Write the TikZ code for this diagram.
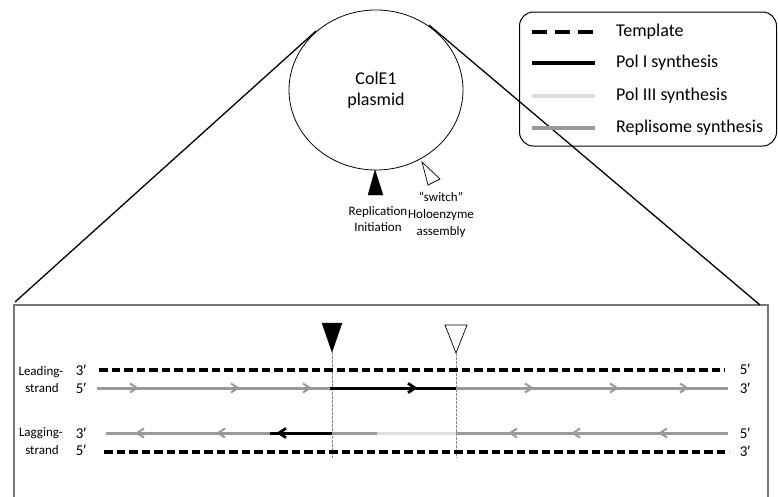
\documentclass[tikz,border=0pt]{standalone}
\usepackage{fontspec}
\setmainfont{Carlito}
\newfontfamily\primefont{Liberation Sans}
\newcommand{\pr}{{\primefont ′}}
\usetikzlibrary{shapes.geometric}
\definecolor{repgray}{HTML}{9A9A9A}
\definecolor{polthree}{HTML}{DEDEDE}
\definecolor{boxgray}{HTML}{777777}
\definecolor{guidegray}{HTML}{888888}
\begin{document}
\begin{tikzpicture}[x=1pt,y=-1pt,
  tmpl/.style={line width=3.5pt, dash pattern=on 8.5pt off 4pt},
  repline/.style={draw=repgray, line width=3pt},
  polone/.style={draw=black, line width=3pt},
  polthr/.style={draw=polthree, line width=3pt},
  guide/.style={draw=guidegray, line width=0.6pt, dash pattern=on 2.5pt off 1.5pt},
  zoomline/.style={draw=black, line width=1.3pt},
  smalltxt/.style={font=\fontsize{13}{15.5}\selectfont, align=center, inner sep=0pt},
  legtxt/.style={font=\fontsize{18}{21}\selectfont, anchor=west, inner sep=0pt},
  endlbl/.style={font=\fontsize{15}{17}\selectfont, inner sep=0pt},
  chevR/.pic={\draw[line width=2pt, line join=miter] (-7,-4.5) -- (0,0) -- (-7,4.5);},
  chevL/.pic={\draw[line width=2pt, line join=miter] (7,-4.5) -- (0,0) -- (7,4.5);},
  bchevR/.pic={\draw[line width=2.8pt, line join=miter] (-7,-4.7) -- (0,0) -- (-7,4.7);},
  bchevL/.pic={\draw[line width=2.8pt, line join=miter] (7,-4.7) -- (0,0) -- (7,4.7);}
]
\useasboundingbox (0,0) rectangle (778,496);

% plasmid
\node[draw, ellipse, line width=0.8pt, minimum width=174pt, minimum height=160pt, inner sep=0pt,
      font=\fontsize{18}{21}\selectfont, align=center] (plasmid) at (376,90) {ColE1\\plasmid};

% zoom box
\coordinate (bl) at (14,305);
\coordinate (br) at (768,305);
\coordinate (blow) at (14,500);
\coordinate (brlow) at (768,500);
\coordinate (lt) at (316,31);
\coordinate (rt) at (429,25);
\coordinate (lend) at (15,302);
\coordinate (rend) at (760,305);
\draw[boxgray, line width=1.5pt] (blow) -- (bl) -- (br) -- (brlow);
\draw[zoomline] (lt) -- (lend);
\draw[zoomline] (rt) -- (rend);

% plasmid markers
\draw[fill=black] (375,170) coordinate (ri) -- (368,195) -- (383,195) -- cycle;
\draw[fill=white, line width=0.7pt] (422,162) coordinate (sw) -- (428,185) -- (440,179) -- cycle;
\node[smalltxt] (repl) at (378,219) {Replication\\Initiation};
\node[smalltxt, font=\fontsize{13}{17}\selectfont] (switch) at (441,215) {“switch”\\Holoenzyme\\assembly};

% legend
\node[draw, rounded corners=14pt, line width=1pt, minimum width=257pt, minimum height=134pt, inner sep=0pt] (legend) at (648,79) {};
\coordinate (la1) at (532,32); \coordinate (lb1) at (594,32);
\coordinate (la2) at (532,63); \coordinate (lb2) at (595,63);
\coordinate (la3) at (532,96); \coordinate (lb3) at (595,96);
\coordinate (la4) at (532,128); \coordinate (lb4) at (595,128);
\draw[line width=4pt, dash pattern=on 15pt off 8pt] (la1) -- (lb1);
\draw[black, line width=3.5pt] (la2) -- (lb2);
\draw[polthree, line width=3.5pt] (la3) -- (lb3);
\draw[repgray, line width=3.5pt] (la4) -- (lb4);
\node[legtxt] (t1) at (616,32) {Template};
\node[legtxt] (t2) at (616,63) {Pol I synthesis};
\node[legtxt] (t3) at (616,96) {Pol III synthesis};
\node[legtxt] (t4) at (616,128) {Replisome synthesis};

% bottom panel markers
\draw[fill=black] (322,323) -- (342,323) -- (332,352) coordinate (tb) -- cycle;
\draw[fill=white, line width=0.7pt] (445,325) -- (467,325) -- (456,353) coordinate (tw) -- cycle;
\coordinate (tbb) at (332,458);
\coordinate (twb) at (456,458);
\draw[guide] (tb) -- (tbb);
\draw[guide] (tw) -- (twb);

% top template
\coordinate (tp1) at (99,370); \coordinate (tp2) at (725,370);
\draw[tmpl] (tp1) -- (tp2);
% leading strand
\coordinate (ld0) at (97,388); \coordinate (ld1) at (330,388);
\coordinate (ld2) at (456,388); \coordinate (ld3) at (728,388);
\draw[repline] (ld0) -- (ld1);
\draw[repline] (ld2) -- (ld3);
\draw[polone] (ld1) -- (ld2);
\foreach \x in {137,238,310,532,617,687} \pic[color=repgray] at (\x,388) {chevR};
\pic[color=black] at (415,388) {bchevR};
% lagging strand
\coordinate (lg0) at (106,433); \coordinate (lg1) at (270,433);
\coordinate (lg2) at (332,433); \coordinate (lg3) at (377,433);
\coordinate (lg4) at (456,433); \coordinate (lg5) at (728,433);
\draw[repline] (lg0) -- (lg1);
\draw[polone] (lg1) -- (lg2);
\draw[repline] (lg2) -- (lg3);
\draw[polthr] (lg3) -- (lg4);
\draw[repline] (lg4) -- (lg5);
\foreach \x in {137,218,510,573,660} \pic[color=repgray] at (\x,433) {chevL};
\pic[color=black] at (279,433) {bchevL};
% bottom template
\coordinate (bt1) at (104,452); \coordinate (bt2) at (729,452);
\draw[tmpl] (bt1) -- (bt2);

% labels
\node[smalltxt] (lead) at (41,372) {Leading-};
\node[smalltxt] (leads) at (42,388) {strand};
\node[smalltxt] (lag) at (41,433) {Lagging-};
\node[smalltxt] (lags) at (42,450) {strand};
\node[endlbl] (e1) at (81,370) {3\pr};
\node[endlbl] (e2) at (81,388) {5\pr};
\node[endlbl] (e3) at (81,433) {3\pr};
\node[endlbl] (e4) at (81,450) {5\pr};
\node[endlbl] (e5) at (745,369) {5\pr};
\node[endlbl] (e6) at (745,388) {3\pr};
\node[endlbl] (e7) at (745,433) {5\pr};
\node[endlbl] (e8) at (745,451) {3\pr};
\end{tikzpicture}
\end{document}
